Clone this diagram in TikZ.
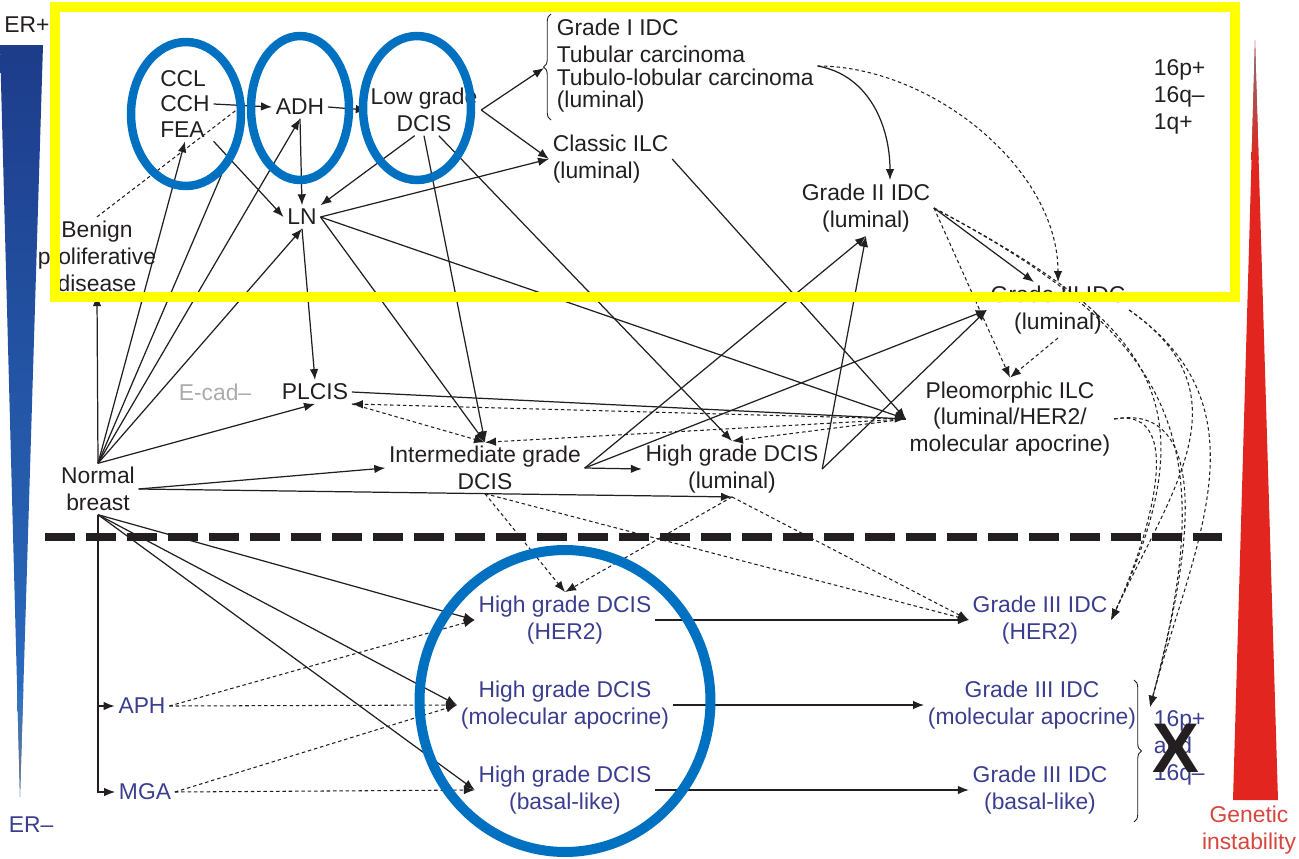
\documentclass[tikz,border=0pt]{standalone}
\usepackage{fontspec}
\setmainfont{Liberation Sans}
\usetikzlibrary{arrows.meta,calc,positioning,shapes.geometric,decorations.pathreplacing}
\definecolor{Ink}{HTML}{231F20}
\definecolor{Slate}{HTML}{3B3E8E}
\definecolor{Ring}{HTML}{0070C0}
\definecolor{Lemon}{HTML}{FFFF00}
\definecolor{Ember}{HTML}{E2261F}
\definecolor{EmberText}{HTML}{D8453C}
\definecolor{Navy}{HTML}{1D3C8A}
\definecolor{Sky}{HTML}{2C72C6}
\definecolor{Ash}{HTML}{ABABAB}
\pgfdeclarelayer{front}
\pgfsetlayers{main,front}

\begin{document}
\begin{tikzpicture}[x=0.02cm,y=-0.02cm,
    txt/.style={text=Ink,align=center,inner sep=2pt,font=\fontsize{13}{15.3}\selectfont},
    sub/.style={txt,text=Slate},
    arr/.style={draw=Ink,line width=0.7pt,-{Latex[length=2.2mm,width=1.7mm]}},
    darr/.style={arr,line width=0.6pt,dash pattern=on 2pt off 1.6pt},
    dline/.style={draw=Ink,line width=0.6pt,dash pattern=on 2pt off 1.6pt},
    ring/.style={draw=Ring,line width=0.17cm,ellipse,inner sep=0pt}]
    \useasboundingbox (0,0) rectangle (1299,859);

    % ER and instability wedges
    \shade[top color=Navy,bottom color=Sky] (0,45) -- (43,45) -- (20,797) -- cycle;
    \shade[top color=Sky,bottom color=Ash!70!black] (17.2,690) -- (23.3,690) -- (20,797) -- cycle;
    \fill[Ember] (1255,40) -- (1278,800) -- (1233,800) -- cycle;
    \shade[top color=Ash!70!black,bottom color=Ember] (1255,40) -- (1258.6,160) -- (1251.5,160) -- cycle;
    \node[txt] (erp) at (27,25) {ER+};
    \node[sub] (erm) at (31,825) {ER–};
    \node[txt,text=EmberText,inner sep=1pt] (gi) at (1249,830) {Genetic\\instability};

    \draw[Ink,line width=0.16cm,dash pattern=on 0.6cm off 0.22cm] (45,537) -- (1222,537);

    % upper (ER+) lesions
    \node[txt,align=left,font=\fontsize{13}{14.5}\selectfont] (ccl) at (185,104) {CCL\\CCH\\FEA};
    \node[txt] (adh) at (300,107) {ADH};
    \node[txt] (lgd) at (424,110) {Low grade\\DCIS};
    \node[txt,anchor=west,align=left,font=\fontsize{13}{13}\selectfont] (g1) at (553,66)
      {Grade I IDC\\[2pt]Tubular carcinoma\\Tubulo-lobular carcinoma\\(luminal)};
    \draw[Ink,line width=0.5pt,decorate,decoration={brace,amplitude=0.15cm}] (551,120) -- (551,14);
    \coordinate (g1tip) at (544,68);
    \node[txt,anchor=west,align=left] (cilc) at (549,159) {Classic ILC\\(luminal)};
    \node[txt] (g2) at (866,208) {Grade II IDC\\(luminal)};
    \node[txt,anchor=west,align=left] (chr) at (1150,97) {16p+\\16q–\\1q+};
    \node[txt] (bpd) at (97,256) {Benign\\proliferative\\disease};
    \node[txt] (ln) at (302,217) {LN};
    \node[txt] (g3l) at (1058,310) {Grade III IDC\\(luminal)};
    \node[txt,text=Ash] (ecad) at (215,392) {E-cad–};
    \node[txt] (plcis) at (315,392) {PLCIS};
    \node[txt] (pilc) at (1010,419) {Pleomorphic ILC\\(luminal/HER2/\\molecular apocrine)};
    \node[txt] (nb) at (98,489) {Normal\\breast};
    \node[txt] (idcis) at (485,468) {Intermediate grade\\DCIS};
    \node[txt] (hgl) at (732,469) {High grade DCIS\\(luminal)};

    % lower (ER-) lesions
    \node[sub] (aph) at (142,706) {APH};
    \node[sub] (mga) at (145,792) {MGA};
    \node[sub] (hgher) at (565,620) {High grade DCIS\\(HER2)};
    \node[sub] (hgapo) at (565,705) {High grade DCIS\\(molecular apocrine)};
    \node[sub] (hgbas) at (565,790) {High grade DCIS\\(basal-like)};
    \node[sub] (g3her) at (1040,620) {Grade III IDC\\(HER2)};
    \node[sub] (g3apo) at (1032,705) {Grade III IDC\\(molecular apocrine)};
    \node[sub] (g3bas) at (1040,790) {Grade III IDC\\(basal-like)};
    \draw[Ink,line width=0.5pt,decorate,decoration={brace,amplitude=0.15cm}] (1134,680) -- (1134,822);
    \node[sub,anchor=west,align=left] (loss) at (1150,748) {16p+\\and\\16q–};
    \node[txt,font=\fontsize{40}{40}\selectfont\bfseries] (cross) at (1176,748) {X};

    % highlight marks
    \begin{pgfonlayer}{front}
      \draw[Lemon,line width=0.2cm] (55,7) rectangle (1235,297);
      \node[ring,minimum width=2.2cm,minimum height=2.88cm] (ring1) at (186,114) {};
      \node[ring,minimum width=1.96cm,minimum height=2.88cm] (ring2) at (300,108) {};
      \node[ring,minimum width=2.16cm,minimum height=2.88cm] (ring3) at (417,108) {};
      \node[ring,line width=0.2cm,minimum width=5.82cm,minimum height=6.04cm] (ring4) at (565,701) {};
    \end{pgfonlayer}

    % solid pathways
    \draw[arr] (ccl.east) -- (adh.west);
    \draw[arr] (adh.east) -- (lgd.west);
    \draw[arr] (lgd.east) -- (g1tip);
    \draw[arr] (lgd.east) -- (cilc.west);
    \draw[arr] (nb.north) -- (ccl.south);
    \draw[Ink,line width=0.7pt] (nb.north) -- (ring1.300);
    \draw[arr] (nb.north) -- (adh.south);
    \draw[arr] (nb.north) -- (ln.south);
    \draw[arr] (nb.north) -- (bpd.south);
    \draw[arr] (nb.north) -- (plcis.south);
    \draw[arr] (ccl.south east) -- (ln.west);
    \draw[arr] (adh.south) -- (ln.north);
    \draw[arr] (lgd.250) -- (ln.north east);
    \draw[arr] (ln.east) -- (cilc.west);
    \draw[arr] (ln.east) -- (pilc.west);
    \draw[arr] (ln.east) -- (idcis.north);
    \draw[arr] (ln.south) -- (plcis.north);
    \draw[arr] (lgd.south) -- (idcis.north);
    \draw[arr] (lgd.300) -- (hgl.north);
    \draw[arr] (cilc.east) -- (pilc.west);
    \draw[arr] (g1.east) to[out=-10,in=90] ($(g2.north)+(24,0)$);
    \draw[arr] (plcis.east) -- (pilc.west);
    \draw[arr] (nb.east) -- (idcis.west);
    \draw[arr] (nb.east) -- (hgl.south);
    \draw[arr] (idcis.east) -- (hgl.west);
    \draw[arr] (idcis.east) -- (g2.south);
    \draw[arr] (idcis.east) -- (g3l.west);
    \draw[arr] (hgl.east) -- (g2.south);
    \draw[arr] (hgl.east) -- (g3l.west);
    \draw[arr] (g2.east) -- ($(g3l.north)+(-24,0)$);

    % dashed pathways
    \draw[dline] (bpd.north) -- (ring1.10);
    \draw[darr] (g1.east) to[out=0,in=90,looseness=0.9] (g3l.north);
    \draw[darr] (pilc.west) -- (plcis.south east);
    \draw[darr] (plcis.south east) -- (idcis.north);
    \draw[darr] (pilc.west) -- (idcis.north);
    \draw[darr] (pilc.west) -- (hgl.north);
    \draw[darr] (g2.east) -- (pilc.north);
    \draw[darr] (g3l.south) -- (pilc.north);
    \draw[darr] (idcis.south) -- (hgher.north);
    \draw[darr] (idcis.south) -- (g3her.west);
    \draw[darr] (hgl.south) -- (hgher.north);
    \draw[darr] (hgl.south) -- (g3her.west);
    \draw[darr] (g2.east) to[out=-28,in=65,looseness=1.4] (g3her.east);
    \draw[darr] (g2.east) to[out=-28,in=75,looseness=1.3] (loss.north west);
    \draw[darr] (g3l.east) to[out=-35,in=65,looseness=1.2] (g3her.east);
    \draw[darr] (g3l.east) to[out=-35,in=75,looseness=1.1] (loss.north west);
    \draw[darr] (pilc.east) to[out=10,in=65] (g3her.east);
    \draw[darr] (pilc.east) to[out=10,in=75] (loss.north west);

    % ER- branch
    \draw[arr] (nb.south) |- (aph.west);
    \draw[arr] (nb.south) |- (mga.west);
    \draw[arr] (nb.south) -- (hgher.west);
    \draw[arr] (nb.south) -- (hgapo.west);
    \draw[arr] (nb.south) -- (hgbas.west);
    \draw[darr] (aph.east) -- (hgher.west);
    \draw[darr] (aph.east) -- (hgapo.west);
    \draw[darr] (mga.east) -- (hgapo.west);
    \draw[darr] (mga.east) -- (hgbas.west);
    \draw[arr] (hgher.east) -- (g3her.west);
    \draw[arr] (hgapo.east) -- (g3apo.west);
    \draw[arr] (hgbas.east) -- (g3bas.west);
  \end{tikzpicture}
\end{document}
